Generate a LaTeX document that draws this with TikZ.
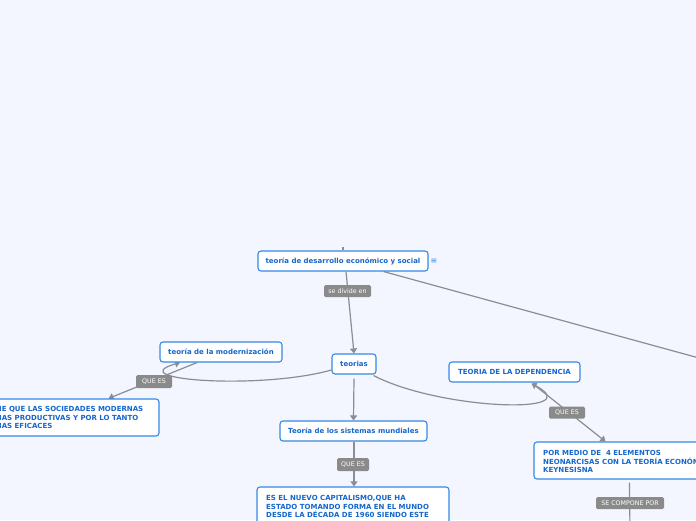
\documentclass[tikz,border=0pt]{standalone}
\usepackage{fontspec}
\setmainfont{DejaVu Sans}
\usetikzlibrary{arrows.meta,calc}
\definecolor{bgc}{RGB}{243,246,254}
\definecolor{bord}{RGB}{51,136,230}
\definecolor{txt}{RGB}{22,102,204}
\definecolor{lblc}{RGB}{138,138,138}
\definecolor{connc}{RGB}{140,140,150}
\pgfdeclarelayer{paper}
\pgfdeclarelayer{back}
\pgfsetlayers{paper,back,main}
\tikzset{
  topic/.style={draw=bord, line width=1.1pt, fill=white, rounded corners=3pt,
    font=\fontsize{7}{8.5}\selectfont\bfseries, text=txt, inner sep=0pt},
  bodytext/.style={font=\fontsize{7}{8.5}\selectfont\bfseries, text=txt,
    inner sep=0pt, align=left, anchor=north west},
  lab/.style={fill=lblc, rounded corners=1.5pt, text=white,
    font=\fontsize{6.3}{7}\selectfont, inner sep=0pt},
  conn/.style={draw=connc, line width=1.2pt},
  arr/.style={-{Triangle[length=5pt,width=7pt]}}
}
\begin{document}
\begin{tikzpicture}[x=1pt,y=-1pt]
\begin{pgfonlayer}{paper}
\fill[bgc] (0,0) rectangle (696,520);
\end{pgfonlayer}
\useasboundingbox (0,0) rectangle (696,520);
\clip (0,0) rectangle (696,520);

% topics
\node[topic, minimum width=170, minimum height=20] (root) at (343,261) {teoría de desarrollo económico y social};
\node[text=bord, font=\fontsize{8}{8}\selectfont, inner sep=0pt] (icon) at (434,261) {≡};
\node[topic, minimum width=44, minimum height=20] (teorias) at (354,364) {teorias};
\node[topic, minimum width=122, minimum height=20] (modern) at (221,352) {teoría de la modernización};
\node[topic, minimum width=131, minimum height=20] (dep) at (514.5,372) {TEORIA DE LA DEPENDENCIA};
\node[topic, minimum width=147, minimum height=20] (sist) at (353.5,431) {Teoría de los sistemas mundiales};

\node[topic, minimum width=179, minimum height=37] (defbox) at (69.5,417.5) {};
\node[bodytext] (deftext) at (-1,406.5) {IE QUE LAS SOCIEDADES MODERNAS\\IAS PRODUCTIVAS Y POR LO TANTO\\IAS EFICACES};

\node[topic, minimum width=192, minimum height=50] (bottombox) at (353,512) {};
\node[bodytext] (bottomtext) at (266,495.5) {ES EL NUEVO CAPITALISMO,QUE HA\\ESTADO TOMANDO FORMA EN EL MUNDO\\DESDE LA DÉCADA DE 1960 SIENDO ESTE};

\node[topic, minimum width=186, minimum height=37] (childbox) at (627,460.5) {};
\node[bodytext] (childtext) at (543,450.5) {POR MEDIO DE \ 4 ELEMENTOS\\NEONARCISAS CON LA TEORÍA ECONÓMICA\\KEYNESISNA};

% labels
\node[lab, minimum width=47, minimum height=12] (l1) at (347.5,291) {se divide en};
\node[lab, minimum width=36, minimum height=13] (l2) at (154,381.5) {QUE ES};
\node[lab, minimum width=32, minimum height=13] (l3) at (353,464.5) {QUE ES};
\node[lab, minimum width=36, minimum height=12] (l4) at (567,412.5) {QUE ES};
\node[lab, minimum width=68, minimum height=12] (l5) at (630,503) {SE COMPONE POR};

\coordinate (stub) at (343,247);
\coordinate (far) at (730,366.5);
\coordinate (down) at (630,530);

\begin{pgfonlayer}{back}
\draw[conn] (stub) -- (root.north);
\draw[conn] ($(root.south east)+(-45,0)$) -- (far);
\draw[conn,arr] ($(root.south)+(3,0)$) -- (teorias.north);
\draw[conn,arr] ($(teorias.west)+(0,6)$) .. controls (260,390) and (120,380) .. ($(modern.south)+(-41,0)$);
\draw[conn,arr] ($(modern.south)+(-24,0)$) -- ($(defbox.north east)+(-51,0)$);
\draw[conn,arr] ($(teorias.south)+(0,4)$) -- (sist.north);
\draw[conn,arr] ($(sist.south)+(0.5,0)$) -- ($(bottombox.north)+(1,0)$);
\draw[conn,arr] ($(teorias.south east)+(-3,1)$) .. controls (440,410) and (590,415) .. ($(dep.south)+(17,1)$);
\draw[conn,arr] ($(dep.south)+(18,1)$) -- ($(childbox.north west)+(72,0)$);
\draw[conn] ($(childbox.south west)+(96,3)$) -- (down);
\end{pgfonlayer}
\end{tikzpicture}
\end{document}
